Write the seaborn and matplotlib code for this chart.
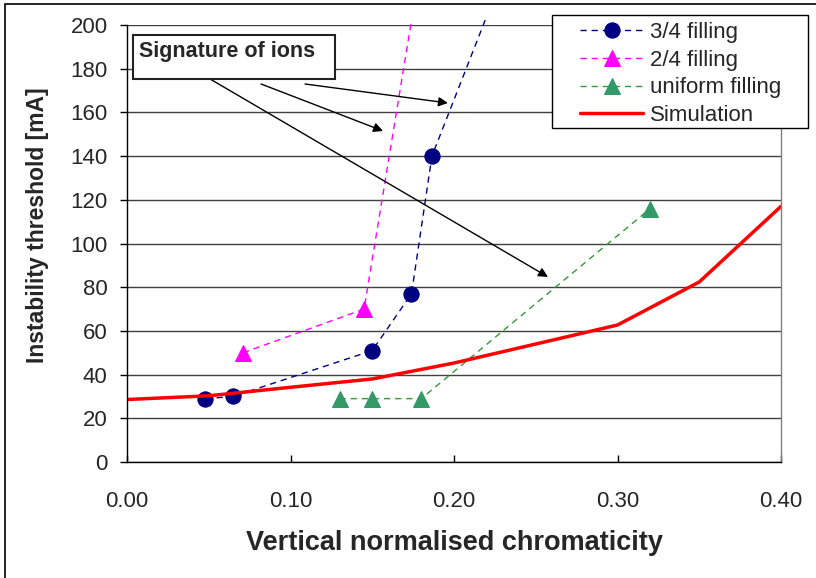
import numpy as np
import pandas as pd
import matplotlib
matplotlib.use('Agg')
import matplotlib.pyplot as plt
from matplotlib.patches import Rectangle
import seaborn as sns

# data
# (last point of 3/4 and 2/4 series = where the line leaves the plot, no marker)
x_34 = [0.048, 0.065, 0.150, 0.174, 0.1865, 0.220]
y_34 = [29, 30, 51, 77, 140, 204]

x_24 = [0.071, 0.145, 0.174]
y_24 = [50, 70, 202]

x_uni = [0.130, 0.150, 0.180, 0.320]
y_uni = [29, 29, 29, 116]

x_sim = [0.00, 0.05, 0.10, 0.15, 0.20, 0.25, 0.30, 0.35, 0.40]
y_sim = [28.6, 30.3, 34.2, 38.0, 45.3, 54.0, 62.7, 82.4, 117.0]

# annotation arrows (start -> end), data coords
arrow_starts = [(0.0508, 175.3), (0.0820, 173.0), (0.1089, 173.0)]
arrow_ends = [(0.2575, 84.7), (0.1566, 151.5), (0.1963, 164.3)]

x_ticks = [0.0, 0.1, 0.2, 0.3, 0.4]
y_ticks = list(range(0, 201, 20))

sns.set_style('white')
plt.rcParams['font.family'] = ['Liberation Sans', 'DejaVu Sans']

fig = plt.figure(figsize=(8.16, 5.78), dpi=100)
ax = fig.add_axes([127 / 816, 116 / 578, 654 / 816, 437 / 578])

sns.lineplot(x=x_34, y=y_34, ax=ax, sort=False, color='#000080', lw=1,
             linestyle=(0, (4.5, 3.5)), marker='o', markersize=11,
             markevery=list(range(len(x_34) - 1)),
             markeredgecolor='#000080', label='3/4 filling', clip_on=False)
sns.lineplot(x=x_24, y=y_24, ax=ax, sort=False, color='#FF00FF', lw=1,
             linestyle=(0, (4.5, 3.5)), marker='^', markersize=12,
             markevery=list(range(len(x_24) - 1)),
             markeredgecolor='#FF00FF', label='2/4 filling', clip_on=False)
sns.lineplot(x=x_uni, y=y_uni, ax=ax, sort=False, color='#339933', lw=1,
             linestyle=(0, (4.5, 3.5)), marker='^', markersize=12,
             markerfacecolor='#339966', markeredgecolor='#339966',
             label='uniform filling', clip_on=False)
sns.lineplot(x=x_sim, y=y_sim, ax=ax, sort=False, color='#FF0000', lw=2.5,
             label='Simulation')

ax.set_xlim(0, 0.4)
ax.set_ylim(0, 200)
ax.set_xticks(x_ticks)
ax.set_xticklabels(['%.2f' % v for v in x_ticks])
ax.set_yticks(y_ticks)
ax.set_xlabel('')
ax.set_ylabel('')

ax.grid(axis='y', color='#404040', lw=1)
ax.grid(axis='x', visible=False)
ax.set_axisbelow(True)
ax.spines['top'].set_visible(False)
ax.spines['right'].set_color('#808080')
ax.spines['left'].set_color('black')
ax.spines['bottom'].set_color('black')
for s in ax.spines.values():
    s.set_linewidth(1)

ax.tick_params(axis='y', direction='out', length=5, width=1, pad=9,
               labelsize=16, left=True, color='black')
ax.tick_params(axis='x', direction='in', length=5, width=1, pad=21,
               labelsize=16, bottom=True, color='black')

# axis titles
fig.text(38 / 816, 1 - 225 / 578, 'Instability threshold [mA]', rotation=90,
         ha='center', va='center', fontsize=16.5, fontweight='bold')
fig.text(454 / 816, 1 - 543 / 578, 'Vertical normalised chromaticity',
         ha='center', va='center', fontsize=19.5, fontweight='bold')

# legend: frame drawn separately so the padding matches the reference
ax.add_patch(Rectangle((552 / 816, 1 - 128 / 578), 256 / 816, 113 / 578,
                       transform=fig.transFigure, facecolor='white',
                       edgecolor='black', lw=1, zorder=4.5, clip_on=False))
leg = ax.legend(loc='upper left', bbox_to_anchor=(580 / 816, 1 - 22 / 578),
                bbox_transform=fig.transFigure, fontsize=16, frameon=False,
                borderaxespad=0, borderpad=0, labelspacing=0.3,
                handlelength=2.85, handletextpad=0.3, numpoints=1)
leg.set_zorder(5)

# "Signature of ions" box and arrows
fig.patches.append(Rectangle((133 / 816, 1 - 79 / 578), 202 / 816, 44 / 578,
                             transform=fig.transFigure, fill=True, facecolor='white',
                             edgecolor='#222222', lw=1.5, zorder=5))
fig.text(139 / 816, 1 - 41 / 578, 'Signature of ions', ha='left', va='top',
         fontsize=15.5, fontweight='bold', zorder=6)
for (sx, sy), (ex, ey) in zip(arrow_starts, arrow_ends):
    ax.annotate('', xy=(ex, ey), xytext=(sx, sy),
                arrowprops=dict(arrowstyle='-|>', color='black', lw=1,
                                mutation_scale=14, shrinkA=0, shrinkB=0))

# outer chart frame
fig.patches.append(Rectangle((5 / 816, -0.05), 1.1, 1 - 4 / 578 + 0.05,
                             transform=fig.transFigure, fill=False,
                             edgecolor='black', lw=1.2))

fig.savefig('out.png', dpi=100)
